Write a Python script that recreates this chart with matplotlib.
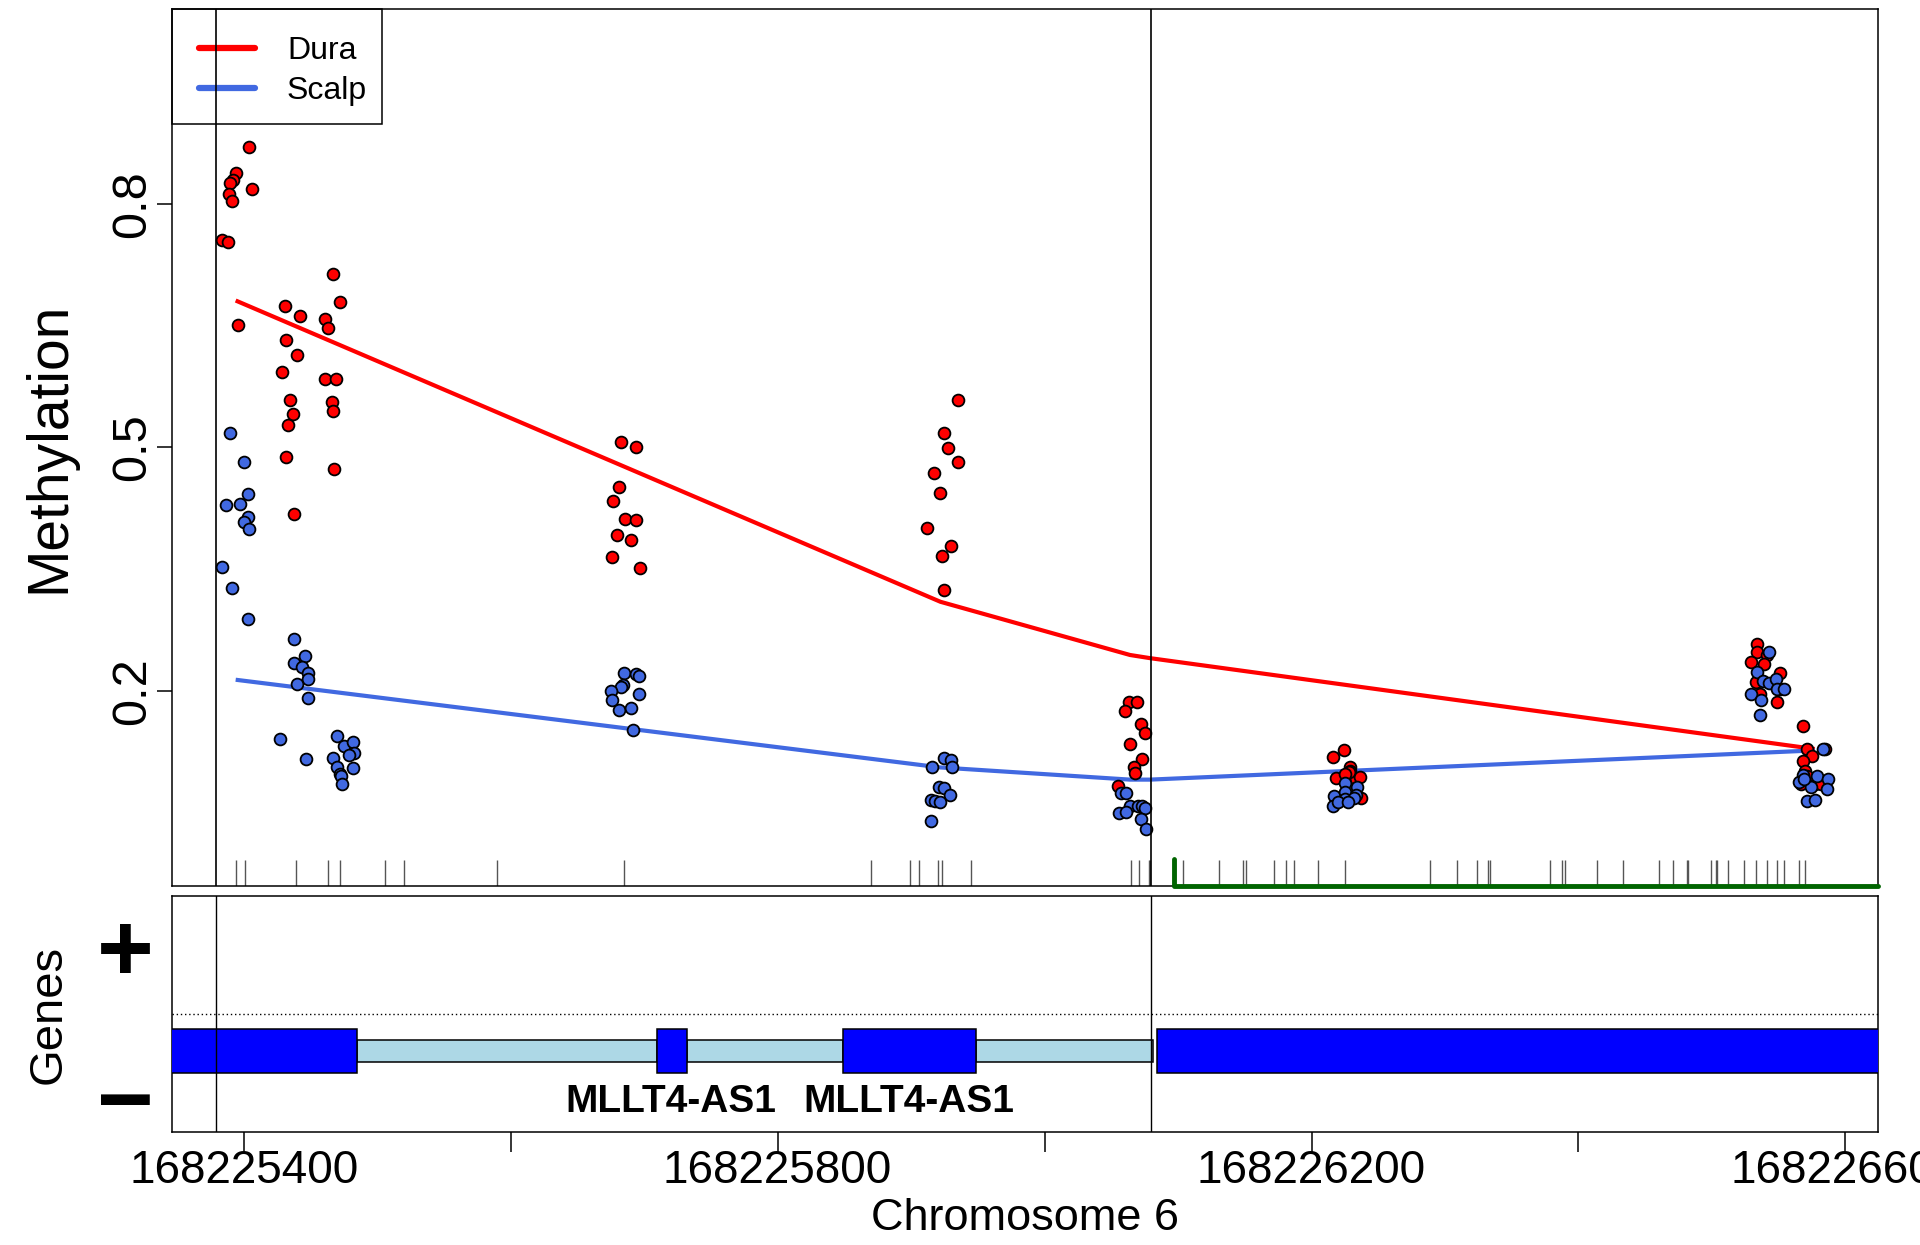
import matplotlib
matplotlib.use("Agg")
import matplotlib.pyplot as plt
from matplotlib.lines import Line2D
from matplotlib.patches import Rectangle
import numpy as np

plt.rcParams['font.family'] = ['Liberation Sans', 'DejaVu Sans']

# ---------------- data (genomic offsets from chrom_base, chr6) ----------------
chrom_base = 168225000

dura_off = [404, 394, 392, 390, 389, 391, 406, 384, 388, 396,
            431, 442, 432, 440, 429, 435, 437, 433, 432, 438,
            467, 472, 461, 463, 461, 469, 466, 467, 468,
            683, 694, 681, 677, 686, 694, 680, 690, 676, 697,
            935, 925, 928, 935, 917, 922, 912, 930, 923, 925,
            1063, 1069, 1060, 1072, 1075, 1064, 1073, 1067, 1068, 1055,
            1216, 1224, 1229, 1229, 1218, 1233, 1236, 1237, 1228, 1225,
            1534, 1534, 1541, 1529, 1539, 1551, 1533, 1551, 1536, 1549,
            1568, 1571, 1585, 1575, 1568, 1570, 1567, 1577, 1582, 1571]
dura_meth = [0.870, 0.838, 0.829, 0.826, 0.812, 0.804, 0.818, 0.756, 0.753, 0.651,
             0.674, 0.662, 0.632, 0.614, 0.593, 0.559, 0.541, 0.528, 0.488, 0.418,
             0.714, 0.679, 0.658, 0.647, 0.584, 0.584, 0.556, 0.545, 0.473,
             0.507, 0.500, 0.451, 0.434, 0.412, 0.411, 0.392, 0.386, 0.365, 0.352,
             0.558, 0.518, 0.499, 0.482, 0.469, 0.444, 0.401, 0.379, 0.366, 0.325,
             0.186, 0.186, 0.175, 0.159, 0.148, 0.135, 0.116, 0.106, 0.099, 0.083,
             0.119, 0.127, 0.107, 0.102, 0.093, 0.092, 0.094, 0.068, 0.101, 0.098,
             0.258, 0.248, 0.245, 0.236, 0.234, 0.222, 0.211, 0.202, 0.197, 0.187,
             0.157, 0.129, 0.129, 0.120, 0.114, 0.102, 0.086, 0.085, 0.086, 0.096]

scalp_off = [390, 400, 403, 387, 397, 403, 400, 404, 384, 391, 403,
             438, 446, 438, 444, 448, 448, 440, 448, 427, 447,
             470, 475, 482, 483, 479, 467, 470, 482, 472, 473, 474,
             685, 694, 696, 684, 683, 675, 696, 676, 681, 690, 692,
             925, 930, 916, 931, 921, 925, 929, 915, 918, 922, 915,
             1057, 1061, 1064, 1070, 1073, 1075, 1056, 1061, 1072, 1076,
             1225, 1234, 1217, 1225, 1233, 1225, 1216, 1232, 1220, 1227,
             1543, 1534, 1538, 1543, 1548, 1549, 1554, 1529, 1537, 1536,
             1583, 1568, 1579, 1587, 1574, 1586, 1571, 1577, 1565, 1569]
scalp_meth = [0.518, 0.482, 0.443, 0.429, 0.431, 0.414, 0.408, 0.400, 0.353, 0.327, 0.289,
              0.264, 0.243, 0.235, 0.230, 0.222, 0.215, 0.209, 0.192, 0.141, 0.117,
              0.145, 0.133, 0.137, 0.124, 0.121, 0.118, 0.106, 0.105, 0.098, 0.095, 0.086,
              0.222, 0.221, 0.219, 0.208, 0.205, 0.200, 0.197, 0.189, 0.177, 0.179, 0.152,
              0.118, 0.115, 0.107, 0.106, 0.082, 0.081, 0.072, 0.066, 0.065, 0.064, 0.040,
              0.075, 0.075, 0.059, 0.059, 0.058, 0.056, 0.050, 0.051, 0.043, 0.030,
              0.087, 0.082, 0.071, 0.076, 0.072, 0.067, 0.058, 0.068, 0.064, 0.064,
              0.248, 0.223, 0.212, 0.210, 0.215, 0.203, 0.202, 0.196, 0.189, 0.170,
              0.129, 0.097, 0.096, 0.092, 0.082, 0.080, 0.065, 0.066, 0.088, 0.092]

# smoothed group means
smooth_off = [394, 922, 1064, 1079, 1577]
dura_smooth = [0.681, 0.310, 0.2445, 0.2406, 0.1287]
scalp_smooth = [0.214, 0.106, 0.091, 0.091, 0.127]

# CpG sites (rug)
cpg_off = [394, 401, 439, 463, 472, 506, 520, 590, 685, 870, 899, 906, 920, 923, 945,
           1065, 1071, 1078, 1079, 1104, 1131, 1149, 1151, 1172, 1181, 1187, 1205, 1225,
           1289, 1309, 1324, 1332, 1334, 1379, 1388, 1390, 1414, 1433, 1460, 1471, 1481,
           1482, 1499, 1503, 1504, 1512, 1524, 1533, 1541, 1549, 1554, 1565, 1570]

# DMR boundaries and highlighted region
dmr_bounds_off = [379, 1079.5]
green_start_off = 1097

# gene models (minus strand)
exon_off = [(250, 485), (710, 732), (849, 949), (1084, 1720)]
intron_off = [(485, 710), (732, 849), (949, 1081.6)]
gene_names = ["MLLT4-AS1", "MLLT4-AS1"]
gene_label_off = [720, 898]

xtick_pos = [168225400, 168225600, 168225800, 168226000, 168226200, 168226400, 168226600]
xtick_lab = ["168225400", "", "168225800", "", "168226200", "", "168226600"]
ytick_pos = [0.2, 0.5, 0.8]
ytick_lab = ["0.2", "0.5", "0.8"]

# ---------------- figure ----------------
W, H = 1920, 1245
fig = plt.figure(figsize=(W / 100, H / 100), dpi=100)

L, R = 172, 1878
TOP, BOT = 9, 886
ax = fig.add_axes([L / W, 1 - BOT / H, (R - L) / W, (BOT - TOP) / H])
axg = fig.add_axes([L / W, 1 - 1132 / H, (R - L) / W, (1132 - 896) / H])

xmin, xmax = chrom_base + 346.3, chrom_base + 1624.4
ymin, ymax = -0.04, 1.04

def pos(offs):
    return chrom_base + np.asarray(offs, dtype=float)

RED = '#FF0000'
BLUE = '#4169E1'

# main panel
ax.plot(pos(smooth_off), dura_smooth, color=RED, lw=3.0, zorder=2, solid_capstyle='butt')
ax.plot(pos(smooth_off), scalp_smooth, color=BLUE, lw=3.0, zorder=2, solid_capstyle='butt')
ax.plot(pos(dura_off), dura_meth, 'o', ls='none', ms=8.5, mfc=RED, mec='black', mew=1.3, zorder=3)
ax.plot(pos(scalp_off), scalp_meth, 'o', ls='none', ms=8.5, mfc=BLUE, mec='black', mew=1.3, zorder=3)

ax.vlines(pos(cpg_off), ymin, ymin + 0.032, color='#555555', lw=1.0, zorder=2)
gx = chrom_base + green_start_off
ax.plot([gx, gx, xmax], [ymin + 0.033, ymin, ymin], color='#006400', lw=3.5,
        solid_capstyle='round', solid_joinstyle='round', clip_on=False, zorder=7)

for b in dmr_bounds_off:
    ax.axvline(chrom_base + b, color='black', lw=1.2, zorder=6)
    axg.axvline(chrom_base + b, color='black', lw=1.0, zorder=6)

ax.set_xlim(xmin, xmax)
ax.set_ylim(ymin, ymax)
ax.set_yticks(ytick_pos)
ax.set_yticklabels(ytick_lab, rotation=90, va='center', fontsize=35)
ax.tick_params(axis='y', length=10.8, width=1.1, pad=1)
ax.tick_params(axis='x', bottom=False, labelbottom=False)
for s in ax.spines.values():
    s.set_linewidth(1.1)
ax.set_ylabel("Methylation", fontsize=41, va='center')
ax.yaxis.set_label_coords((49 - L) / (R - L), 0.5)

handles = [Line2D([], [], color=RED, lw=4.5, solid_capstyle='round'),
           Line2D([], [], color=BLUE, lw=4.5, solid_capstyle='round')]
leg = ax.legend(handles, ["Dura", "Scalp"], loc='upper left', bbox_to_anchor=(0, 1),
                borderaxespad=0, frameon=False, fontsize=23, handlelength=1.75,
                handletextpad=1.0, labelspacing=0.3, borderpad=0.85)
leg.set_zorder(5)
# legend box (R-style, tight to the panel corner)
ax.add_patch(Rectangle((0, (BOT - 124) / (BOT - TOP)), (382 - L) / (R - L), (124 - TOP) / (BOT - TOP),
                       transform=ax.transAxes, fill=False, edgecolor='black', lw=1.1,
                       clip_on=False, zorder=5))

# genes panel
for (a, b) in intron_off:
    axg.add_patch(Rectangle((chrom_base + a, 0.297), b - a, 0.093, facecolor='#ADD8E6',
                            edgecolor='black', lw=1.1, zorder=2))
for (a, b) in exon_off:
    axg.add_patch(Rectangle((chrom_base + a, 0.25), b - a, 0.186, facecolor='#0000FF',
                            edgecolor='black', lw=1.1, zorder=3))
axg.axhline(0.5, color='black', lw=1.0, ls=(0, (1, 2)), zorder=1)
for name, off in zip(gene_names, gene_label_off):
    axg.text(chrom_base + off, 0.128, name, ha='center', va='center', fontsize=28,
             fontweight='bold')

axg.set_xlim(xmin, xmax)
axg.set_ylim(0, 1)
axg.set_yticks([])
axg.set_xticks(xtick_pos)
axg.set_xticklabels(xtick_lab, fontsize=33)
axg.tick_params(axis='x', length=14.4, width=1.1, pad=-2.2)
for s in axg.spines.values():
    s.set_linewidth(1.1)
axg.set_ylabel("Genes", fontsize=34, va='center')
axg.yaxis.set_label_coords((49 - L) / (R - L), 0.5)
axg.text((125 - L) / (R - L), 0.745, "+", transform=axg.transAxes, ha='center', va='center',
         fontsize=70, fontweight='bold')
axg.text((125 - L) / (R - L), 0.105, "\u2212", transform=axg.transAxes, ha='center', va='center',
         fontsize=70, fontweight='bold')
axg.set_xlabel("Chromosome 6", fontsize=32.5, va='center')
axg.xaxis.set_label_coords(0.5, (1132 - 1219) / (1132 - 896))

fig.savefig("out.png", dpi=100)
